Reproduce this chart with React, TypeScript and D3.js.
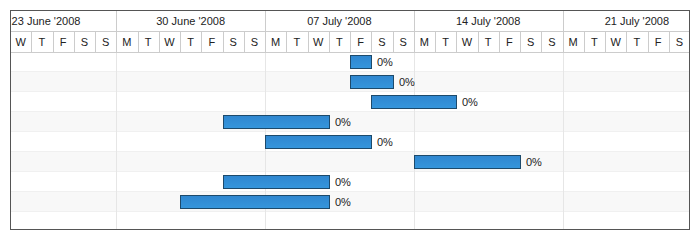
import React from "react";
import * as d3 from "d3";

const viewStart = "2008-06-25";
const viewEnd = "2008-07-27";
const taskStarts = ["2008-07-11", "2008-07-11", "2008-07-12", "2008-07-05", "2008-07-07", "2008-07-14", "2008-07-05", "2008-07-03"];
const taskEnds = ["2008-07-12", "2008-07-13", "2008-07-16", "2008-07-10", "2008-07-12", "2008-07-19", "2008-07-10", "2008-07-10"];
const taskProgress = [0, 0, 0, 0, 0, 0, 0, 0];
const dayLetters = ["S", "M", "T", "W", "T", "F", "S"];
const rowCount = 9;

const W = 700;
const H = 240;
const left = 10;
const right = 690;
const top = 10;
const bottom = 230;
const hdr1 = 21;
const hdr2 = 21;
const rowH = 20;
const FONT = "Liberation Sans, Arial, sans-serif";

const parse = d3.utcParse("%Y-%m-%d");
const fmtWeek = d3.utcFormat("%d %B '%Y");

export default function App() {
  const d0 = parse(viewStart)!;
  const d1 = parse(viewEnd)!;
  const x = d3.scaleUtc().domain([d0, d1]).range([left, right]);
  const bodyTop = top + hdr1 + hdr2;
  const days = d3.utcDay.range(d0, d1);
  const weeks = d3.utcMonday.range(d3.utcMonday.floor(d0), d1);
  const weekBounds = d3.utcMonday.range(d3.utcDay.offset(d0, 1), d1);

  return (
    <svg width={W} height={H} style={{ position: "absolute", left: 0, top: 0, background: "#fff" }} fontFamily={FONT}>
      <defs>
        <clipPath id="clipArea">
          <rect x={left} y={top} width={right - left} height={bottom - top} />
        </clipPath>
        <linearGradient id="barGrad" x1="0" y1="0" x2="0" y2="1">
          <stop offset="0" stopColor="#2f86cf" />
          <stop offset="1" stopColor="#3596dc" />
        </linearGradient>
      </defs>
      {d3.range(rowCount).map((i) => {
        const y0 = bodyTop + i * rowH;
        const y1 = Math.min(y0 + rowH, bottom);
        return (
          <g key={"r" + i}>
            <rect x={left} y={y0} width={right - left} height={y1 - y0} fill={i % 2 === 1 ? "#f8f8f8" : "#ffffff"} />
            <line x1={left} x2={right} y1={y1 - 0.5} y2={y1 - 0.5} stroke="#f0f0f0" />
          </g>
        );
      })}
      {weekBounds.map((d, i) => (
        <line key={"bw" + i} x1={Math.round(x(d)) + 0.5} x2={Math.round(x(d)) + 0.5} y1={bodyTop} y2={bottom} stroke="#e6e6e6" />
      ))}
      <rect x={left} y={top} width={right - left} height={hdr1 + hdr2} fill="#ffffff" />
      <line x1={left} x2={right} y1={top + hdr1 + 0.5} y2={top + hdr1 + 0.5} stroke="#cccccc" />
      <line x1={left} x2={right} y1={bodyTop + 0.5} y2={bodyTop + 0.5} stroke="#cccccc" />
      {weekBounds.map((d, i) => (
        <line key={"hw" + i} x1={Math.round(x(d)) + 0.5} x2={Math.round(x(d)) + 0.5} y1={top} y2={top + hdr1} stroke="#cccccc" />
      ))}
      {days.slice(1).map((d, i) => (
        <line key={"hd" + i} x1={Math.round(x(d)) + 0.5} x2={Math.round(x(d)) + 0.5} y1={top + hdr1} y2={bodyTop} stroke="#cccccc" />
      ))}
      <g clipPath="url(#clipArea)">
        {weeks.map((w, i) => {
          const ws = x(w);
          const we = x(d3.utcDay.offset(w, 7));
          const tw = 67;
          let cx = (ws + we) / 2;
          if (cx - tw / 2 < left + 2) cx = left + 2.5 + tw / 2;
          return (
            <text key={"wt" + i} x={cx} y={top + 15} textAnchor="middle" fontSize={11} fill="#222">
              {fmtWeek(w)}
            </text>
          );
        })}
        {days.map((d, i) => (
          <text key={"dt" + i} x={(x(d) + x(d3.utcDay.offset(d, 1))) / 2} y={top + hdr1 + 15} textAnchor="middle" fontSize={11} fill="#222">
            {dayLetters[d.getUTCDay()]}
          </text>
        ))}
        {taskStarts.map((s, i) => {
          const xs = x(parse(s)!);
          const xe = x(parse(taskEnds[i])!);
          const y0 = bodyTop + i * rowH;
          return (
            <g key={"b" + i}>
              <rect x={Math.round(xs) + 0.5} y={y0 + 3.5} width={Math.round(xe) - Math.round(xs)} height={13} fill="url(#barGrad)" stroke="#1d4a6b" />
              <text x={Math.round(xe) + 6} y={y0 + 14} fontSize={11} fill="#222">
                {taskProgress[i] + "%"}
              </text>
            </g>
          );
        })}
      </g>
      <rect x={left + 0.5} y={top + 0.5} width={right - left - 1} height={bottom - top - 1} fill="none" stroke="#555555" />
    </svg>
  );
}
